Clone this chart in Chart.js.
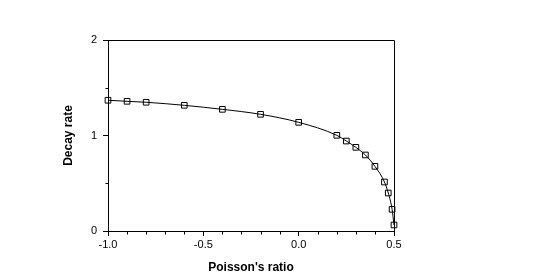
<!DOCTYPE html>
<html>
<head>
<meta charset="utf-8">
<script src="https://cdn.jsdelivr.net/npm/chart.js@4/dist/chart.umd.min.js"></script>
<style>
    body { margin: 0; background: #fff; }
    #wrap { width: 540px; height: 280px; }
</style>
</head>
<body>
<div id="wrap"><canvas id="decayChart" width="540" height="280"></canvas></div>
<script>
// values
var poissonRatio = [-1.0, -0.9, -0.8, -0.6, -0.4, -0.2, 0.0, 0.2, 0.25, 0.3, 0.35, 0.4, 0.45, 0.47, 0.49, 0.5];
var decayRate = [1.369, 1.358, 1.348, 1.316, 1.274, 1.222, 1.138, 1.002, 0.942, 0.876, 0.796, 0.677, 0.513, 0.398, 0.227, 0.063];

var xRange = [-1.0, 0.5];
var yRange = [0, 2];
var xMajorStep = 0.5;
var yMajorStep = 1;

function isMajor(v, step) {
    var q = v / step;
    return Math.abs(q - Math.round(q)) < 1e-6;
}

// top/right frame of the plot box and the short minor tick marks
var frameAndMinorTicks = {
    id: 'frameAndMinorTicks',
    afterDraw: function(chart) {
        var ctx = chart.ctx;
        var a = chart.chartArea;
        var xs = chart.scales.x;
        var ys = chart.scales.y;
        var bottom = Math.round(a.bottom) + 0.5;
        var left = Math.round(a.left) + 0.5;
        ctx.save();
        ctx.strokeStyle = '#000';
        ctx.lineWidth = 1;
        ctx.beginPath();
        ctx.moveTo(left, Math.round(a.top) + 0.5);
        ctx.lineTo(Math.round(a.right) + 0.5, Math.round(a.top) + 0.5);
        ctx.lineTo(Math.round(a.right) + 0.5, bottom);
        xs.ticks.forEach(function(t) {
            if (!isMajor(t.value, xMajorStep)) {
                var px = Math.round(xs.getPixelForValue(t.value)) + 0.5;
                ctx.moveTo(px, bottom);
                ctx.lineTo(px, bottom + 3);
            }
        });
        ys.ticks.forEach(function(t) {
            if (!isMajor(t.value, yMajorStep)) {
                var py = Math.round(ys.getPixelForValue(t.value)) + 0.5;
                ctx.moveTo(left, py);
                ctx.lineTo(left - 3, py);
            }
        });
        ctx.stroke();
        ctx.restore();
    }
};

var points = poissonRatio.map(function(x, i) { return {x: x, y: decayRate[i]}; });

var ctx = document.getElementById('decayChart').getContext('2d');
var decayChart = new Chart(ctx, {
    type: 'scatter',
    data: {
        datasets: [{
            data: points,
            showLine: true,
            cubicInterpolationMode: 'monotone',
            borderColor: '#000',
            borderWidth: 1,
            pointStyle: 'rect',
            pointRadius: 4,
            pointHoverRadius: 4,
            pointBorderColor: '#000',
            pointBackgroundColor: 'rgba(0,0,0,0)',
            pointBorderWidth: 1,
            clip: false
        }]
    },
    options: {
        responsive: false,
        animation: false,
        events: [],
        layout: { padding: { left: 50, top: 40, right: 146, bottom: 0 } },
        plugins: {
            legend: { display: false },
            tooltip: { enabled: false }
        },
        scales: {
            x: {
                type: 'linear',
                position: 'bottom',
                min: xRange[0],
                max: xRange[1],
                afterFit: function(scale) { scale.height = 49; },
                border: { display: true, color: '#000', width: 1 },
                grid: {
                    drawOnChartArea: false,
                    drawTicks: true,
                    tickLength: 5,
                    tickColor: function(c) {
                        return c.tick && isMajor(c.tick.value, xMajorStep) ? '#000' : 'rgba(0,0,0,0)';
                    }
                },
                ticks: {
                    stepSize: 0.1,
                    autoSkip: false,
                    maxRotation: 0,
                    padding: 2,
                    color: '#000',
                    font: { family: '"Liberation Sans", Arial, sans-serif', size: 11 },
                    callback: function(v) {
                        if (!isMajor(v, xMajorStep)) return '';
                        if (Math.abs(v) < 1e-9) return '0.0';
                        return v.toFixed(1);
                    }
                },
                title: {
                    display: true,
                    text: "Poisson's ratio",
                    color: '#000',
                    padding: { top: 0, bottom: 5 },
                    font: { family: '"Liberation Sans", Arial, sans-serif', size: 12, weight: 'bold' }
                }
            },
            y: {
                type: 'linear',
                position: 'left',
                min: yRange[0],
                max: yRange[1],
                afterFit: function(scale) { scale.width = 58; },
                border: { display: true, color: '#000', width: 1 },
                grid: {
                    drawOnChartArea: false,
                    drawTicks: true,
                    tickLength: 5,
                    tickColor: function(c) {
                        return c.tick && isMajor(c.tick.value, yMajorStep) ? '#000' : 'rgba(0,0,0,0)';
                    }
                },
                ticks: {
                    stepSize: 0.5,
                    autoSkip: false,
                    padding: 6,
                    color: '#000',
                    font: { family: '"Liberation Sans", Arial, sans-serif', size: 11 },
                    callback: function(v) {
                        return isMajor(v, yMajorStep) ? String(Math.round(v)) : '';
                    }
                },
                title: {
                    display: true,
                    text: 'Decay rate',
                    color: '#000',
                    padding: { top: 11, bottom: 0 },
                    font: { family: '"Liberation Sans", Arial, sans-serif', size: 12, weight: 'bold' }
                }
            }
        }
    },
    plugins: [frameAndMinorTicks]
});
</script>
</body>
</html>
